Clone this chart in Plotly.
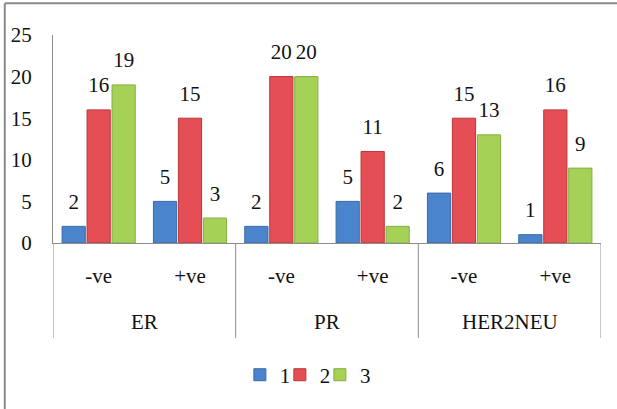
import plotly.graph_objects as go

# Receptor status groups and sub-categories
groups = ["ER", "PR", "HER2NEU"]
statuses = ["-ve", "+ve"]

# Counts per series, ordered ER -ve, ER +ve, PR -ve, PR +ve, HER2NEU -ve, HER2NEU +ve
series_names = ["1", "2", "3"]
values_1 = [2, 5, 2, 5, 6, 1]
values_2 = [16, 15, 20, 11, 15, 16]
values_3 = [19, 3, 20, 2, 13, 9]

y_ticks = [0, 5, 10, 15, 20, 25]

fill_colors = ["#4A84CC", "#E54E54", "#A5D157"]
edge_colors = ["#3A6AA6", "#B8363B", "#86AE42"]

FONT = "Liberation Serif"
TXT = dict(family=FONT, size=21, color="#111111")

positions = list(range(len(groups) * len(statuses)))
tick_text = [s for _ in groups for s in statuses]

# one single-entry legend per series, laid out in a row under the axis
legend_ids = ["legend", "legend2", "legend3"]
legend_x = [0.341, 0.414, 0.487]

fig = go.Figure()
all_values = [values_1, values_2, values_3]
for name, vals, fc, ec, lg in zip(series_names, all_values, fill_colors, edge_colors, legend_ids):
    fig.add_trace(go.Bar(
        x=positions, y=vals, name=name, offsetgroup=name, legend=lg,
        marker=dict(color=fc, line=dict(color=ec, width=1)),
        hoverinfo="skip",
    ))
for name, vals in zip(series_names, all_values):
    fig.add_trace(go.Scatter(
        x=positions, y=vals, offsetgroup=name, mode="markers+text",
        text=[str(v) for v in vals], textposition="top center",
        textfont=TXT,
        marker=dict(size=18, color="rgba(0,0,0,0)"),
        showlegend=False, hoverinfo="skip", cliponaxis=False,
    ))

# group dividers below the category axis
shapes = []
n_per = len(statuses)
for k in range(len(groups) + 1):
    xv = k * n_per - 0.5
    shapes.append(dict(type="line", xref="x", yref="paper", x0=xv, x1=xv,
                       y0=0, y1=-0.457, line=dict(color="#8C8C8C", width=1)))
# outer frame (top and left edges)
shapes.append(dict(type="line", xref="paper", yref="paper",
                   x0=-0.088, x1=1.05, y0=1.153, y1=1.153,
                   line=dict(color="#8A8A8A", width=2)))
shapes.append(dict(type="line", xref="paper", yref="paper",
                   x0=-0.088, x1=-0.088, y0=1.153, y1=-0.8,
                   line=dict(color="#8A8A8A", width=2)))

annotations = []
for gi, g in enumerate(groups):
    annotations.append(dict(
        x=gi * n_per + (n_per - 1) / 2, y=-0.38, xref="x", yref="paper",
        text=g, showarrow=False, yanchor="middle", font=TXT,
    ))

legend_layout = {
    lg: dict(orientation="h", x=lx, xanchor="left", y=-0.635, yanchor="middle",
             font=TXT, itemwidth=30, bgcolor="rgba(0,0,0,0)")
    for lg, lx in zip(legend_ids, legend_x)
}

fig.update_layout(
    width=617, height=409,
    margin=dict(l=53, r=16, t=35, b=166),
    paper_bgcolor="white", plot_bgcolor="white",
    barmode="group", bargap=0.18, bargroupgap=0.07,
    scattermode="group", scattergap=0.18,
    showlegend=True,
    shapes=shapes, annotations=annotations,
    **legend_layout,
)
fig.update_xaxes(
    range=[-0.5, len(positions) - 0.5],
    tickmode="array", tickvals=positions, ticktext=tick_text,
    showline=True, linecolor="#8C8C8C", linewidth=1,
    ticks="", showgrid=False, zeroline=False, ticklabelstandoff=14,
    tickfont=TXT,
)
fig.update_yaxes(
    range=[0, 25], tickmode="array", tickvals=y_ticks,
    showline=True, linecolor="#8C8C8C", linewidth=1,
    ticks="", showgrid=False, zeroline=False, ticklabelstandoff=16,
    tickfont=TXT,
)

fig.write_html("out.html")
